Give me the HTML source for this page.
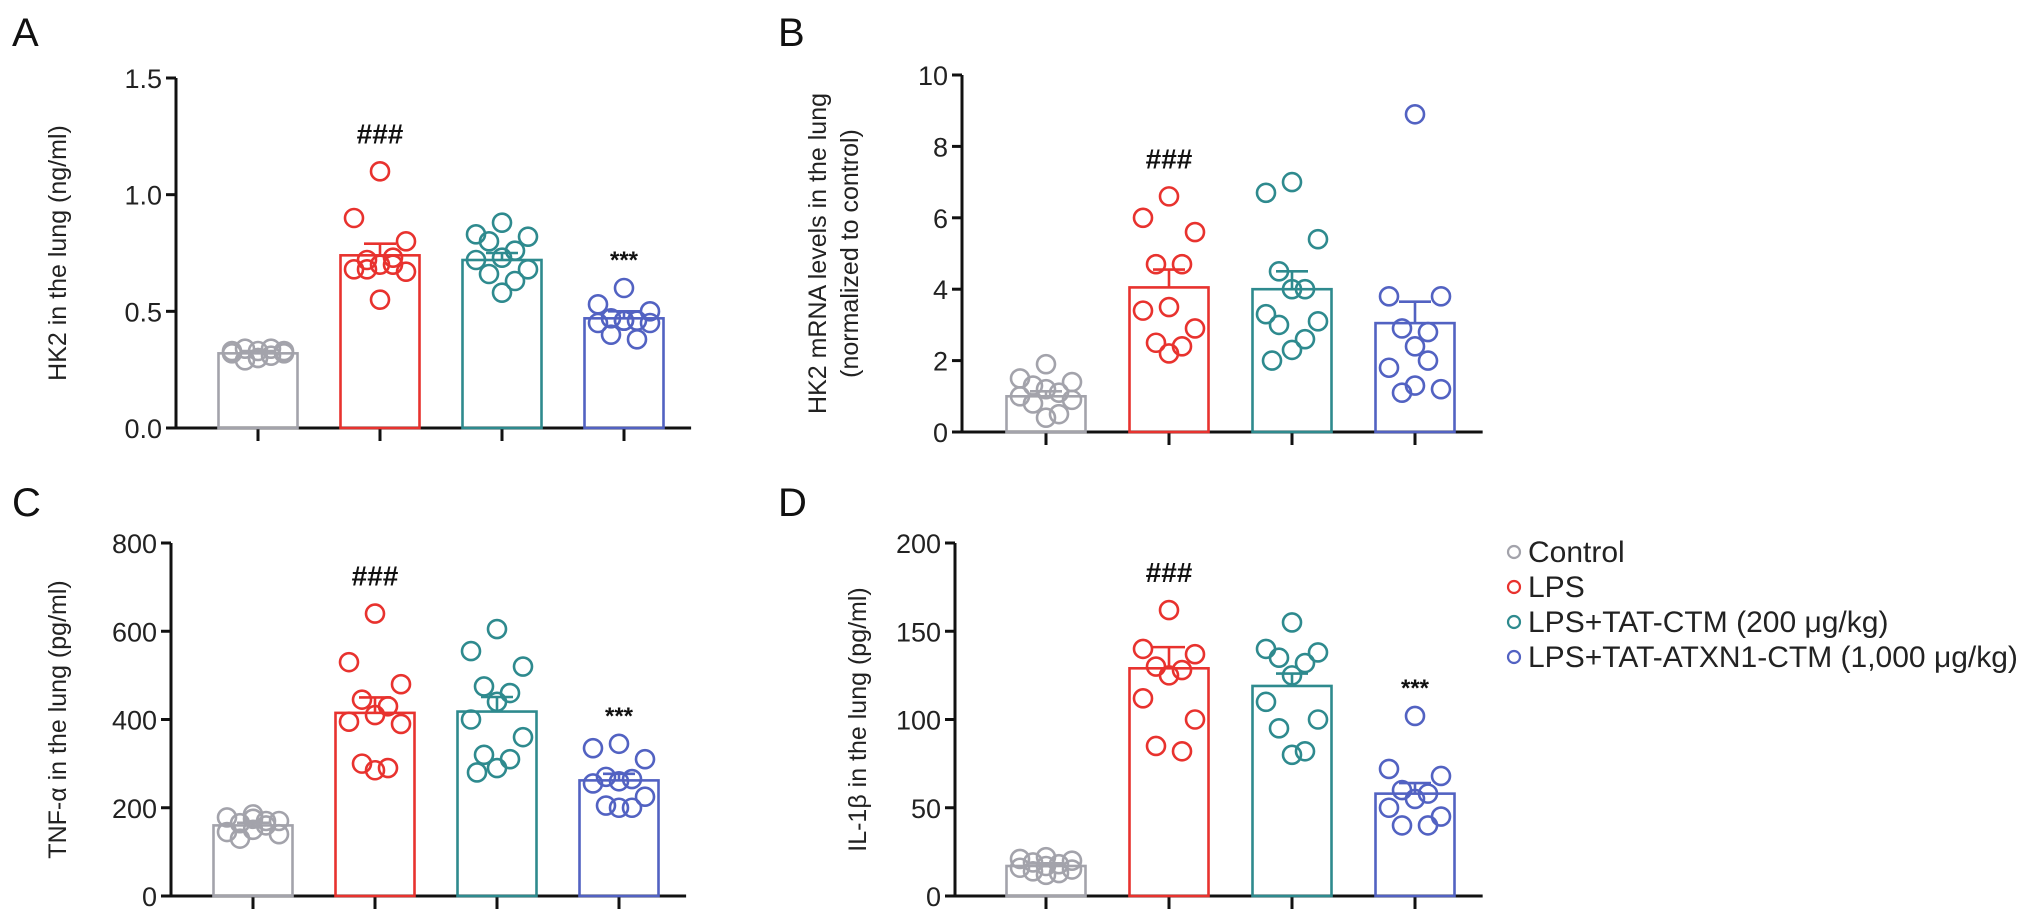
<!DOCTYPE html>
<html><head><meta charset="utf-8"><style>
html,body{margin:0;padding:0;background:#fff;}
svg{display:block;font-family:"Liberation Sans",Arial,sans-serif;}
</style></head><body>
<svg id="fig" width="2032" height="921" viewBox="0 0 2032 921" xmlns="http://www.w3.org/2000/svg"></svg>
<script>
const groups = ["Control","LPS","LPS+TAT-CTM (200 μg/kg)","LPS+TAT-ATXN1-CTM (1,000 μg/kg)"];
const colors = ["#a3a3ab","#e8322e","#2e8a8e","#5262c2"];
// Panel A
const aMeans = [0.32,0.74,0.72,0.47];
const aSem = [0.01,0.05,0.03,0.03];
const aPts = [[0.30,0.32,0.33,0.34,0.31,0.30,0.33,0.32,0.29,0.34,0.33],[1.10,0.90,0.80,0.72,0.73,0.70,0.68,0.67,0.68,0.70,0.55],[0.88,0.83,0.82,0.80,0.76,0.73,0.72,0.68,0.66,0.63,0.58],[0.60,0.53,0.50,0.47,0.46,0.46,0.45,0.45,0.40,0.38,0.46]];
const aTicks = [0,0.5,1.0,1.5];
// Panel B
const bMeans = [1.0,4.05,4.0,3.05];
const bSem = [0.14,0.5,0.5,0.6];
const bPts = [[1.9,1.5,1.4,1.3,1.1,1.2,1.0,0.9,0.8,0.5,0.4],[6.6,6.0,5.6,4.7,4.7,3.5,3.4,2.9,2.5,2.4,2.2],[7.0,6.7,5.4,4.5,4.0,4.0,3.3,3.1,3.0,2.6,2.3,2.0],[8.9,3.8,3.8,2.9,2.8,2.4,1.8,1.2,1.1,2.0,1.3]];
const bTicks = [0,2,4,6,8,10];
// Panel C
const cMeans = [160,415,418,262];
const cSem = [6,35,33,15];
const cPts = [[175,178,170,165,160,150,145,140,130,170,185],[640,530,480,445,430,410,395,390,300,290,285],[605,555,520,475,460,440,400,360,320,310,290,280],[345,335,310,270,265,260,255,225,205,200,200]];
const cTicks = [0,200,400,600,800];
// Panel D
const dMeans = [17,129,119,58];
const dSem = [1.5,12,7,6];
const dPts = [[22,21,20,19,18,17,16,15,14,13,12],[162,140,137,130,128,125,112,100,85,82],[155,140,138,135,132,125,110,100,95,82,80],[102,72,68,60,58,55,50,45,40,40]];
const dTicks = [0,50,100,150,200];

const NS="http://www.w3.org/2000/svg";
const svg=document.getElementById('fig');
function mk(tag,attrs,parent){const e=document.createElementNS(NS,tag);for(const k in attrs)e.setAttribute(k,attrs[k]);(parent||svg).appendChild(e);return e;}

function panel(cfg){
  const g=mk('g',{});
  
  
  const ymax=cfg.ticks[cfg.ticks.length-1];
  const y=v=>cfg.y0-(v/ymax)*(cfg.y0-cfg.yTop);
  const xc=i=>cfg.c0+i*cfg.sp;
  const L=mk('text',{x:cfg.lx,y:cfg.ly,'font-size':40,fill:'#111'},g);L.textContent=cfg.letter;
  
  
  const xr=xc(3)+cfg.sp*0.55;
  const ya=mk('line',{x1:cfg.ax,y1:cfg.yTop,x2:cfg.ax,y2:cfg.y0,stroke:'#111','stroke-width':3},g);
  
  
  const xa=mk('line',{x1:cfg.ax-10,y1:cfg.y0,x2:xr,y2:cfg.y0,stroke:'#111','stroke-width':3},g);
  
  
  cfg.ticks.forEach(t=>{
    mk('line',{x1:cfg.ax-10,y1:y(t),x2:cfg.ax,y2:y(t),stroke:'#111','stroke-width':3},g);
    const tl=mk('text',{x:cfg.ax-14,y:y(t)+10,'font-size':27,'text-anchor':'end',fill:'#222'},g);
    tl.textContent=cfg.fmt(t);
    
    
  });
  const tt=mk('text',{transform:`translate(${cfg.tx},${(cfg.y0+cfg.yTop)/2}) rotate(-90)`,'font-size':25,'text-anchor':'middle',fill:'#222'},g);
  cfg.title.forEach((line,k)=>{const ts=mk('tspan',{x:0,dy:k?32:0},tt);ts.textContent=line;});
  
  
  const offs=[0,-26,26,-13,13,0,-26,26,-13,13,0,-20];
  for(let i=0;i<4;i++){
    const cx=xc(i),w=79,col=colors[i];
    mk('line',{x1:cx,y1:cfg.y0,x2:cx,y2:cfg.y0+13,stroke:'#111','stroke-width':3},g);
    const b=mk('rect',{x:cx-w/2,y:y(cfg.means[i]),width:w,height:cfg.y0-y(cfg.means[i]),fill:'none',stroke:col,'stroke-width':2.6},g);
    
    
    const top=cfg.means[i]+cfg.sem[i];
    mk('line',{x1:cx,y1:y(cfg.means[i]),x2:cx,y2:y(top),stroke:col,'stroke-width':2.6},g);
    mk('line',{x1:cx-16,y1:y(top),x2:cx+16,y2:y(top),stroke:col,'stroke-width':2.6},g);
    cfg.pts[i].forEach((v,k)=>{
      const c=mk('circle',{cx:cx+offs[k%offs.length],cy:y(v),r:9,fill:'none',stroke:col,'stroke-width':2.6},g);
      
      
    });
  }
  const mx1=Math.max(...cfg.pts[1]);
  const h=mk('text',{x:xc(1),y:y(mx1)-28,'font-size':28,'font-weight':'bold','text-anchor':'middle',fill:'#111'},g);h.textContent='###';
  
  
  if(cfg.star){
    const mx3=Math.max(...cfg.pts[3]);
    const s=mk('text',{x:xc(3),y:y(mx3)-20,'font-size':24,'font-weight':'bold','text-anchor':'middle',fill:'#111'},g);s.textContent='***';
    
    
  }
}
panel({letter:'A',lx:12,ly:46,ax:176,c0:258,sp:122,yTop:78,y0:428,ticks:aTicks,fmt:t=>t.toFixed(1),title:['HK2 in the lung (ng/ml)'],tx:66,means:aMeans,sem:aSem,pts:aPts,star:true});
panel({letter:'B',lx:778,ly:46,ax:962,c0:1046,sp:123,yTop:75,y0:432,ticks:bTicks,fmt:t=>String(t),title:['HK2 mRNA levels in the lung','(normalized to control)'],tx:826,means:bMeans,sem:bSem,pts:bPts,star:false});
panel({letter:'C',lx:12,ly:516,ax:171,c0:253,sp:122,yTop:543,y0:896,ticks:cTicks,fmt:t=>String(t),title:['TNF-α in the lung (pg/ml)'],tx:66,means:cMeans,sem:cSem,pts:cPts,star:true});
panel({letter:'D',lx:778,ly:516,ax:955,c0:1046,sp:123,yTop:543,y0:896,ticks:dTicks,fmt:t=>String(t),title:['IL-1β in the lung (pg/ml)'],tx:866,means:dMeans,sem:dSem,pts:dPts,star:true});
const lg=mk('g',{});


groups.forEach((name,i)=>{
  const yy=562+i*35;
  const e=mk('g',{},lg);
  
  
  mk('circle',{cx:1514,cy:yy-10,r:6,fill:'none',stroke:colors[i],'stroke-width':2.2},e);
  const t=mk('text',{x:1528,y:yy,'font-size':30,fill:'#222'},e);t.textContent=name;
});
</script>
</body></html>
